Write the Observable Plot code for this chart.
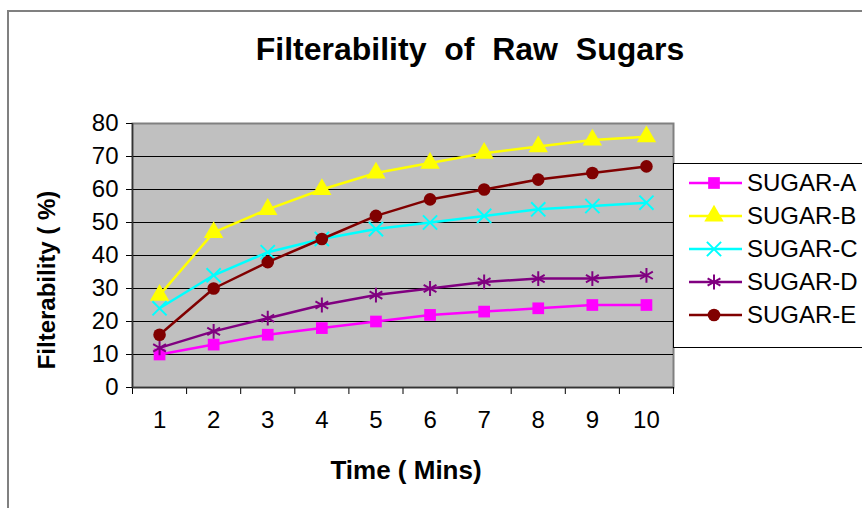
<!DOCTYPE html>
<html>
<head>
<meta charset="utf-8">
<script src="https://cdn.jsdelivr.net/npm/d3@7"></script>
<script src="https://cdn.jsdelivr.net/npm/@observablehq/plot@0.6"></script>
<style>
  html, body { margin: 0; padding: 0; background: #fff; overflow: hidden; }
  #wrap { position: relative; width: 862px; height: 508px; overflow: hidden; font-family: "Liberation Sans", Arial, sans-serif; }
  #wrap svg.plot { position: absolute; left: 0; top: 0; }
  .txt { position: absolute; font-weight: bold; color: #000; white-space: pre; line-height: normal; }
  #outer { position: absolute; left: 7px; top: 10px; width: 900px; height: 600px; border-left: 2px solid #808080; border-top: 2px solid #808080; box-sizing: border-box; }
  #legend { position: absolute; left: 673px; top: 163px; width: 210px; height: 185px; background: #fff; border: 1px solid #000; box-sizing: border-box; }
  .lg { position: absolute; left: 0; height: 28px; display: flex; align-items: center; font-size: 24px; white-space: nowrap; }
</style>
</head>
<body>
<div id="wrap">
  <div id="outer"></div>
  <div id="chart"></div>
  <div class="txt" id="title" style="left:0;width:940px;top:31px;text-align:center;font-size:32px;">Filterability  of  Raw  Sugars</div>
  <div class="txt" id="ylabel" style="left:47px;top:280px;font-size:24px;transform:translate(-50%,-50%) rotate(-90deg);">Filterability ( %)</div>
  <div class="txt" id="xlabel" style="left:406px;top:470px;font-size:26px;transform:translate(-50%,-50%);">Time ( Mins)</div>
  <div id="legend"></div>
</div>
<script>
const times = [1, 2, 3, 4, 5, 6, 7, 8, 9, 10];
const seriesNames = ["SUGAR-A", "SUGAR-B", "SUGAR-C", "SUGAR-D", "SUGAR-E"];
const sugarA = [10, 13, 16, 18, 20, 22, 23, 24, 25, 25];
const sugarB = [28, 47, 54, 60, 65, 68, 71, 73, 75, 76];
const sugarC = [24, 34, 41, 45, 48, 50, 52, 54, 55, 56];
const sugarD = [12, 17, 21, 25, 28, 30, 32, 33, 33, 34];
const sugarE = [16, 30, 38, 45, 52, 57, 60, 63, 65, 67];
const seriesColors = ["#FF00FF", "#FFFF00", "#00FFFF", "#800080", "#800000"];
const seriesSymbols = ["square", "triangle", "times", "asterisk", "circle"];
const yTicks = [0, 10, 20, 30, 40, 50, 60, 70, 80];

const seriesValues = [sugarA, sugarB, sugarC, sugarD, sugarE];
const data = [];
seriesNames.forEach((name, i) => {
  times.forEach((t, j) => data.push({series: name, time: t, value: seriesValues[i][j], idx: i}));
});
const filled = [true, true, false, false, true];
const sizes = [6.6, 7.2, 6.5, 7, 6.3];

const bandEdges = d3.range(0, times.length + 1).map(k => times[0] - 0.5 + k);

const marks = [
  Plot.frame({fill: "#C0C0C0", stroke: "#808080", strokeWidth: 2}),
  Plot.ruleY(yTicks.slice(1, -1), {stroke: "#000", strokeWidth: 1.2}),
  Plot.axisY({ticks: yTicks, tickSize: 6, tickPadding: 8, fontSize: 24, label: null, tickFormat: d => String(d)}),
  Plot.axisX({ticks: times, tickSize: 0, tickPadding: 23, fontSize: 24, label: null, tickFormat: d => String(d)}),
  Plot.axisX({ticks: bandEdges, tickSize: 7, tickFormat: () => "", label: null}),
  Plot.ruleX([bandEdges[0]], {stroke: "#333", strokeWidth: 1.5}),
  Plot.ruleY([0], {stroke: "#333", strokeWidth: 1.5})
];
seriesNames.forEach((name, i) => {
  const d = data.filter(r => r.idx === i);
  marks.push(Plot.line(d, {x: "time", y: "value", stroke: seriesColors[i], strokeWidth: 2.5}));
  marks.push(Plot.dot(d, {
    x: "time", y: "value", symbol: () => seriesSymbols[i], r: sizes[i],
    fill: filled[i] ? seriesColors[i] : "none",
    stroke: seriesColors[i], strokeWidth: filled[i] ? 0 : 2
  }));
});

const chart = Plot.plot({
  width: 862,
  height: 508,
  marginLeft: 132,
  marginRight: 189,
  marginTop: 123,
  marginBottom: 121,
  x: {type: "linear", domain: [bandEdges[0], bandEdges[bandEdges.length - 1]]},
  y: {domain: [0, 80]},
  symbol: {type: "identity"},
  style: {fontFamily: "Liberation Sans, Arial, sans-serif", color: "#000", background: "transparent", overflow: "visible"},
  marks
});
chart.classList.add("plot");
document.getElementById("chart").appendChild(chart);

// Legend
const legend = document.getElementById("legend");
const symbolMap = {square: d3.symbolSquare, triangle: d3.symbolTriangle, times: d3.symbolTimes, asterisk: d3.symbolAsterisk, circle: d3.symbolCircle};
seriesNames.forEach((name, i) => {
  const row = document.createElement("div");
  row.className = "lg";
  row.style.top = (19 + i * 33 - 14) + "px";
  const s = d3.create("svg").attr("width", 70).attr("height", 24).style("display", "block");
  s.append("line").attr("x1", 15).attr("x2", 68).attr("y1", 12).attr("y2", 12).attr("stroke", seriesColors[i]).attr("stroke-width", 2.5);
  const area = Math.PI * sizes[i] * sizes[i];
  s.append("path").attr("transform", "translate(40,12)")
    .attr("d", d3.symbol(symbolMap[seriesSymbols[i]], area)())
    .attr("fill", filled[i] ? seriesColors[i] : "none")
    .attr("stroke", filled[i] ? "none" : seriesColors[i])
    .attr("stroke-width", 2);
  row.appendChild(s.node());
  const t = document.createElement("span");
  t.textContent = name;
  t.style.marginLeft = "3px";
  row.appendChild(t);
  legend.appendChild(row);
});
</script>
</body>
</html>
